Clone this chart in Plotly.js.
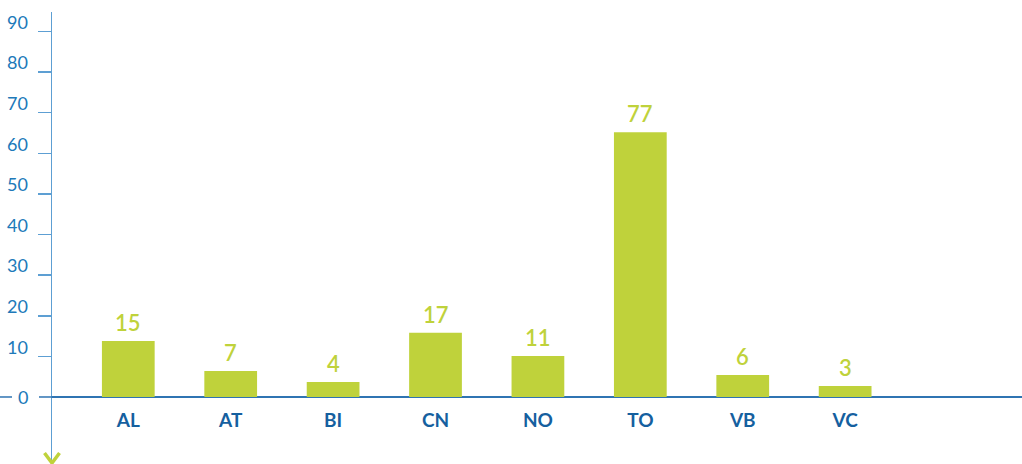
<!DOCTYPE html>
<html>
<head>
<meta charset="utf-8">
<script src="https://cdn.plot.ly/plotly-3.0.1.min.js"></script>
<style>html,body{margin:0;padding:0;background:#fff;}#chart{width:1022px;height:464px;}</style>
</head>
<body>
<div id="chart"></div>
<script>
// Categories (provinces)
var categories = ['AL', 'AT', 'BI', 'CN', 'NO', 'TO', 'VB', 'VC'];
// Bar heights as read against the y axis
var barHeights = [13.8, 6.4, 3.7, 15.8, 10.1, 65.2, 5.4, 2.7];
// Numbers printed above the bars
var barLabels = ['15', '7', '4', '17', '11', '77', '6', '3'];
// Y tick values and labels
var yTickVals = [10, 20, 30, 40, 50, 60, 70, 80, 90];
var yTickText = ['10', '20', '30', '40', '50', '60', '70', '80', '90'];

var GREEN = '#bfd23b';
var BLUE_TXT = '#2079b9';
var BLUE_DARK = '#15609f';
var AXIS_BLUE = '#5d9fd3';
var ZERO_BLUE = '#2f74b2';
var FONT = 'Lato, "Open Sans", sans-serif';

var trace = {
  type: 'bar',
  x: categories,
  y: barHeights,
  marker: {color: GREEN, line: {width: 0}},
  hoverinfo: 'skip'
};

var annotations = categories.map(function (c, i) {
  return {
    x: c, y: barHeights[i], xref: 'x', yref: 'y',
    text: barLabels[i], showarrow: false,
    yanchor: 'bottom', yshift: 3,
    font: {family: FONT, size: 22, color: GREEN, weight: 600}
  };
});
annotations.push({
  x: -0.0227, xref: 'paper', y: 0, yref: 'y', text: '0', showarrow: false,
  xanchor: 'right', yanchor: 'middle',
  font: {family: FONT, size: 18, color: BLUE_TXT}
});

var layout = {
  width: 1022, height: 464,
  margin: {l: 52, r: 0, t: 12, b: 0},
  paper_bgcolor: '#ffffff', plot_bgcolor: '#ffffff',
  showlegend: false,
  bargap: 0.485,
  xaxis: {
    type: 'category',
    range: [-0.745, 8.727],
    anchor: 'free', position: 0.148,
    showline: false, showgrid: false, zeroline: false,
    ticks: '', ticklabelstandoff: 10,
    tickfont: {family: FONT, size: 19, color: BLUE_DARK, weight: 700},
    fixedrange: true
  },
  yaxis: {
    range: [-16.5, 94.8],
    tickvals: yTickVals, ticktext: yTickText,
    showline: true, linecolor: AXIS_BLUE, linewidth: 1.5,
    ticks: 'outside', ticklen: 13, tickwidth: 1.5, tickcolor: AXIS_BLUE,
    ticklabelshift: -9, ticklabelstandoff: 6,
    tickfont: {family: FONT, size: 18, color: BLUE_TXT},
    showgrid: false,
    zeroline: true, zerolinecolor: ZERO_BLUE, zerolinewidth: 1.5,
    fixedrange: true
  },
  shapes: [
    {type: 'line', xref: 'paper', yref: 'y', x0: -0.0537, x1: -0.0412, y0: 0, y1: 0,
     line: {color: ZERO_BLUE, width: 1.5}},
    {type: 'line', xref: 'paper', yref: 'y', x0: -0.0134, x1: 0, y0: 0, y1: 0,
     line: {color: ZERO_BLUE, width: 1.5}},
    {type: 'path', xref: 'paper', yref: 'paper',
     path: 'M -0.00775,0.0243 L 0,0.0022 L 0.00775,0.0243',
     line: {color: GREEN, width: 3.5}}
  ],
  annotations: annotations
};

Plotly.newPlot('chart', [trace], layout, {displayModeBar: false, staticPlot: true});
</script>
</body>
</html>
